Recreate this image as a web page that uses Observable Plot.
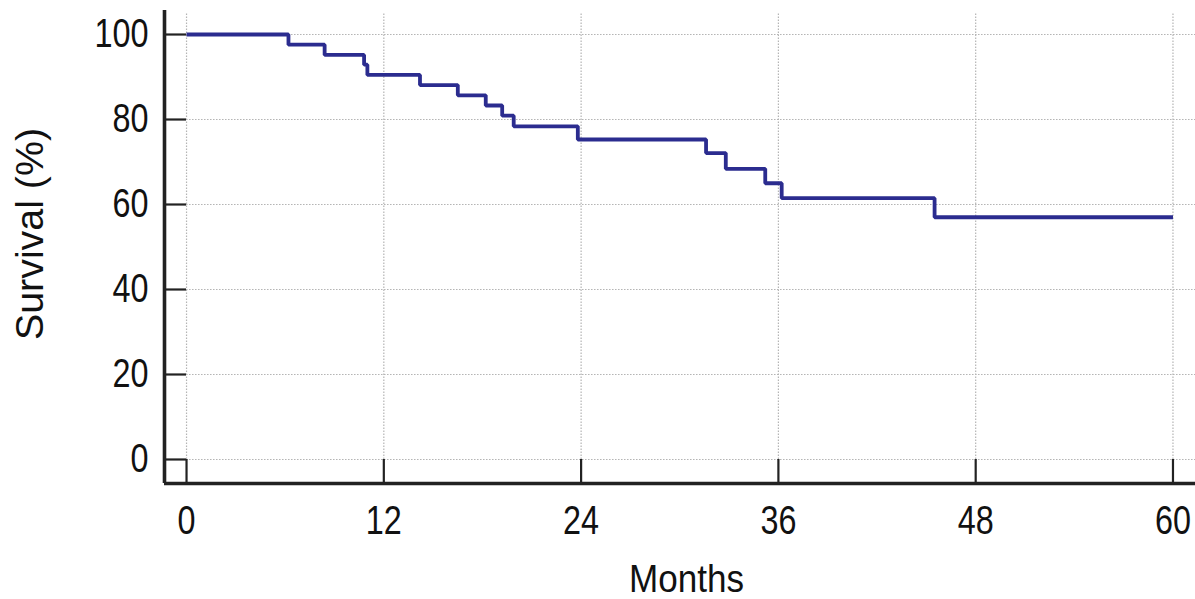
<!DOCTYPE html>
<html>
<head>
<meta charset="utf-8">
<script src="https://cdn.jsdelivr.net/npm/d3@7"></script>
<script src="https://cdn.jsdelivr.net/npm/@observablehq/plot@0.6"></script>
<style>
  html, body { margin: 0; padding: 0; background: #fff; }
  #chart { width: 1195px; height: 599px; }
</style>
</head>
<body>
<div id="chart"></div>
<script>
// Kaplan-Meier survival estimate
const months   = [0, 6.2, 8.4, 10.8, 11.0, 14.2, 16.5, 18.2, 19.2, 19.9, 23.8, 31.6, 32.8, 35.2, 36.2, 45.5, 60];
const survival = [100, 97.6, 95.2, 92.9, 90.5, 88.1, 85.7, 83.3, 80.9, 78.4, 75.3, 72.1, 68.4, 65.0, 61.5, 57.0, 57.0];

const xTicks = [0, 12, 24, 36, 48, 60];
const yTicks = [0, 20, 40, 60, 80, 100];
const xLabel = "Months";
const yLabel = "Survival (%)";

const xDomain = [-1.34, 61.37];
const yDomain = [-5.65, 105.65];

const data = months.map((m, i) => ({month: m, surv: survival[i]}));

const font = "'Liberation Sans', Arial, sans-serif";
const ink = "#111";
const gridColor = "#b4b4b4";

const chart = Plot.plot({
  width: 1195,
  height: 599,
  marginLeft: 164,
  marginRight: 0,
  marginTop: 10,
  marginBottom: 116,
  style: {fontFamily: font, fontSize: "40px", color: ink, background: "#fff"},
  x: {domain: xDomain},
  y: {domain: yDomain},
  marks: [
    // dotted grid
    Plot.ruleX(xTicks, {x: d => d, y1: 0, y2: yDomain[1] - 0.7, stroke: gridColor, strokeWidth: 1.2, strokeDasharray: "1.5,1.5"}),
    Plot.ruleY(yTicks, {y: d => d, x1: 0, x2: xDomain[1], stroke: gridColor, strokeWidth: 1.2, strokeDasharray: "1.5,1.5"}),
    // inward ticks
    Plot.ruleX(xTicks, {x: d => d, y1: yDomain[0], y2: 0, stroke: "#222", strokeWidth: 2.2}),
    Plot.ruleY(yTicks, {y: d => d, x1: xDomain[0], x2: 0, stroke: "#222", strokeWidth: 2.2}),
    // axis lines
    Plot.ruleX([xDomain[0]], {stroke: "#222", strokeWidth: 3.6}),
    Plot.ruleY([yDomain[0]], {stroke: "#222", strokeWidth: 3.6}),
    // tick labels
    Plot.axisX(xTicks, {tickSize: 0, tickPadding: 22, fontSize: 40, fill: ink, label: null}),
    Plot.axisY(yTicks, {tickSize: 0, tickPadding: 16, fontSize: 40, fill: ink, label: null}),
    // survival curve
    Plot.line(data, {x: "month", y: "surv", curve: "step-after", stroke: "#2b2c8f", strokeWidth: 3.8, strokeLinejoin: "miter", strokeLinecap: "butt"}),
    // axis titles
    Plot.text([xLabel], {frameAnchor: "bottom", textAnchor: "start", dx: -51, dy: 108, fontSize: 38, fill: ink, className: "xtitle"}),
    Plot.text([yLabel], {frameAnchor: "left", textAnchor: "start", rotate: -90, dx: -134, dy: 93, fontSize: 38, fill: ink, className: "ytitle"})
  ]
});
document.getElementById("chart").appendChild(chart);
// narrow the glyphs, as in the reference's condensed type
const target = {xtitle: 115, ytitle: 212};
chart.querySelectorAll("text").forEach(t => {
  const len = t.getComputedTextLength();
  if (len <= 0) return;
  let w = len * 0.81;
  for (const k in target) if (t.closest("." + k)) w = target[k];
  t.setAttribute("textLength", w.toFixed(1));
  t.setAttribute("lengthAdjust", "spacingAndGlyphs");
});
</script>
</body>
</html>
